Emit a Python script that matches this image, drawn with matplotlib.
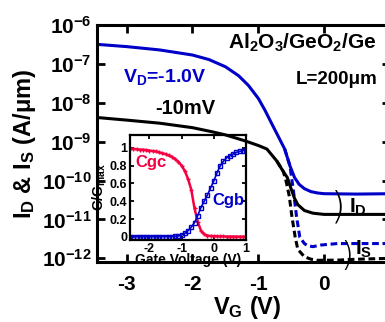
import matplotlib
matplotlib.use("Agg")
import matplotlib.pyplot as plt
import numpy as np

plt.rcParams['font.family'] = 'Liberation Sans'
plt.rcParams['font.weight'] = 'bold'
plt.rcParams['mathtext.fontset'] = 'custom'
plt.rcParams['mathtext.rm'] = 'Liberation Sans:bold'
plt.rcParams['mathtext.it'] = 'Liberation Sans:bold'
plt.rcParams['mathtext.bf'] = 'Liberation Sans:bold'
plt.rcParams['mathtext.sf'] = 'Liberation Sans:bold'
plt.rcParams['mathtext.default'] = 'rm'

BLUE = '#0000C8'
RED = '#F50041'

# main chart: gate voltage vs current (A/um)
vg_blue = [-3.45, -3.0, -2.5, -2.0, -1.75, -1.5, -1.3, -1.15, -1.0, -0.9, -0.8,
           -0.7, -0.6, -0.52, -0.45, -0.38, -0.3, -0.2, -0.1, 0.0, 0.5, 1.0]
id_blue = [3.2e-7, 2.8e-7, 2.3e-7, 1.7e-7, 1.3e-7, 8.5e-8, 5e-8, 2.8e-8, 1.3e-8, 6.5e-9, 3e-9,
           1.4e-9, 6.5e-10, 2.4e-10, 1.2e-10, 8e-11, 6.2e-11, 5.2e-11, 4.8e-11, 4.6e-11, 4.5e-11, 4.6e-11]
vg_blue_s = [-0.6, -0.52, -0.47, -0.42, -0.37, -0.3, -0.25, -0.17, -0.05, 0.2, 0.5, 1.0]
is_blue = [6.5e-10, 2.4e-10, 6e-11, 1.2e-11, 3.5e-12, 2.4e-12, 2.1e-12, 2.0e-12, 2.2e-12, 2.4e-12, 2.4e-12, 2.4e-12]

vg_black = [-3.45, -3.0, -2.5, -2.0, -1.7, -1.5, -1.2, -1.0, -0.87, -0.72, -0.62, -0.56,
            -0.5, -0.45, -0.4, -0.3, -0.17, 0.0, 0.5, 1.0]
id_black = [4.2e-9, 3.6e-9, 3.0e-9, 2.3e-9, 1.8e-9, 1.5e-9, 1.05e-9, 8e-10, 6.5e-10, 3.2e-10, 1.7e-10, 1.2e-10,
            6e-11, 3.5e-11, 2.4e-11, 1.7e-11, 1.45e-11, 1.35e-11, 1.35e-11, 1.35e-11]
vg_black_s = [-0.72, -0.62, -0.58, -0.53, -0.49, -0.44, -0.4, -0.3, -0.2, -0.1, 0.2, 0.5, 1.0]
is_black = [3.2e-10, 1.7e-10, 1.0e-10, 4e-11, 1.2e-11, 3.5e-12, 1.7e-12, 1.1e-12, 9.5e-13, 8.9e-13, 9e-13, 9.5e-13, 1.0e-12]

# inset: C/Cmax vs gate voltage
vg_cv = [-2.6, -2.5, -2.4, -2.3, -2.2, -2.1, -2.0, -1.9, -1.8, -1.7, -1.6, -1.5, -1.4,
         -1.3, -1.2, -1.1, -1.0, -0.9, -0.8, -0.7, -0.6, -0.5, -0.4, -0.3, -0.2, -0.1,
         0.0, 0.1, 0.2, 0.3, 0.4, 0.5, 0.6, 0.7, 0.8, 0.9, 1.0]
cgc = [0.99, 0.99, 0.985, 0.98, 0.98, 0.975, 0.97, 0.965, 0.96, 0.95, 0.94, 0.93, 0.915,
       0.9, 0.875, 0.845, 0.8, 0.74, 0.65, 0.53, 0.32, 0.17, 0.07, 0.03, 0.015, 0.01,
       0.008, 0.006, 0.005, 0.005, 0.004, 0.004, 0.004, 0.003, 0.003, 0.003, 0.003]
cgb = [0.0, 0.0, 0.0, 0.0, 0.0, 0.0, 0.0, 0.0, 0.0, 0.0, 0.001, 0.002, 0.003,
       0.004, 0.006, 0.01, 0.02, 0.04, 0.07, 0.11, 0.16, 0.24, 0.33, 0.40, 0.47, 0.55,
       0.63, 0.72, 0.80, 0.85, 0.89, 0.91, 0.93, 0.95, 0.96, 0.97, 0.98]

fig = plt.figure(figsize=(3.85, 3.22), dpi=100)
ax = fig.add_axes([0.252, 0.186, 0.761, 0.736])

ax.plot(vg_blue, id_blue, color=BLUE, lw=2.2)
ax.plot(vg_blue_s, is_blue, color=BLUE, lw=2.2, ls=(0, (2.2, 1.2)))
ax.plot(vg_black, id_black, color='black', lw=2.2)
ax.plot(vg_black_s, is_black, color='black', lw=2.2, ls=(0, (2.2, 1.2)))

ax.set_yscale('log')
ax.set_xlim(-3.45, 1.0)
ax.set_ylim(8e-13, 1e-6)
ax.set_xticks([-3, -2, -1, 0])
ax.set_xticklabels(['-3', '-2', '-1', '0'])
ax.set_yticks([1e-12, 1e-11, 1e-10, 1e-9, 1e-8, 1e-7, 1e-6])
for s in ax.spines.values():
    s.set_linewidth(2.2)
ax.tick_params(axis='both', which='major', direction='in', length=6, width=2,
               top=True, right=True, labelsize=15)
ax.tick_params(axis='x', pad=9)
ax.tick_params(axis='y', pad=4)
ax.tick_params(axis='y', which='minor', direction='in', length=3.5, width=1.5, right=False)

ax.set_xlabel('V$_G$ (V)', fontsize=17, fontweight='bold')
ax.set_ylabel('I$_D$ & I$_S$ (A/μm)', fontsize=17, fontweight='bold')
ax.xaxis.set_label_coords(0.512, -0.135)
ax.yaxis.set_label_coords(-0.2, 0.5)

ax.text(0.956, 0.924, 'Al$_2$O$_3$/GeO$_2$/Ge', transform=ax.transAxes,
        ha='right', va='center', fontsize=15)
ax.text(0.956, 0.77, 'L=200μm', transform=ax.transAxes,
        ha='right', va='center', fontsize=13.5)
ax.text(0.089, 0.781, 'V$_D$=-1.0V', transform=ax.transAxes, color=BLUE,
        ha='left', va='center', fontsize=14)
ax.text(0.198, 0.65, '-10mV', transform=ax.transAxes,
        ha='left', va='center', fontsize=14.5)
ax.text(0.823, 0.232, ')', transform=ax.transAxes, ha='center', va='center',
        fontsize=27, fontweight='light', family='DejaVu Sans')
ax.text(0.86, 0.232, 'I$_D$', transform=ax.transAxes, ha='left', va='center', fontsize=15)
ax.text(0.853, 0.025, ')', transform=ax.transAxes, ha='center', va='center',
        fontsize=24, fontweight='light', family='DejaVu Sans', clip_on=False)
ax.text(0.882, 0.055, 'I$_S$', transform=ax.transAxes, ha='left', va='center', fontsize=15)

# inset
ins = fig.add_axes([0.338, 0.255, 0.301, 0.326])
ins.patch.set_alpha(0)
ins.plot(vg_cv, cgc, color=RED, lw=1.8, marker='+', ms=3, mew=1)
ins.plot(vg_cv, cgb, color=BLUE, lw=1.2, marker='s', ms=3, mfc='none', mew=1)
ins.set_xlim(-2.6, 1.0)
ins.set_ylim(-0.034, 1.146)
ins.set_xticks([-2, -1, 0, 1])
ins.set_xticklabels(['-2', '-1', '0', '1'])
ins.set_yticks([0, 0.2, 0.4, 0.6, 0.8, 1.0])
ins.set_yticklabels(['0', '0.2', '0.4', '0.6', '0.8', '1'])
for s in ins.spines.values():
    s.set_linewidth(1.6)
ins.tick_params(direction='in', length=3, width=1.3, top=True, right=True,
                labelsize=9, pad=2)
ins.set_xlabel('Gate Voltage (V)', fontsize=10, fontweight='bold', labelpad=-1)
ins.set_ylabel('C/C$_{max}$', fontsize=10.5, fontweight='bold', labelpad=1)
ins.text(0.043, 0.733, 'Cgc', transform=ins.transAxes, color=RED,
         ha='left', va='center', fontsize=12)
ins.text(0.707, 0.38, 'Cgb', transform=ins.transAxes, color=BLUE,
         ha='left', va='center', fontsize=12)

fig.savefig('out.png', dpi=100)
